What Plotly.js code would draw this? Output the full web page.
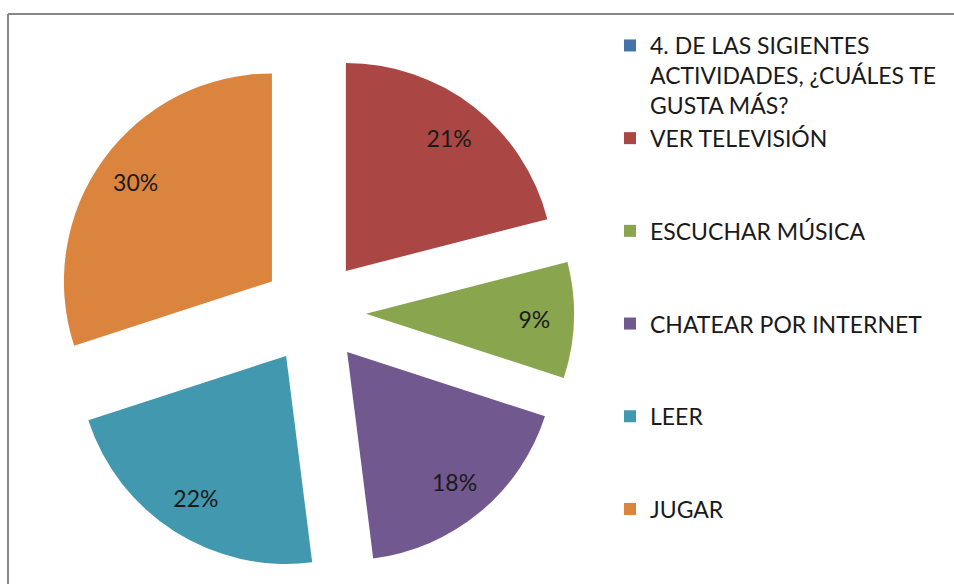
<!DOCTYPE html>
<html>
<head>
<meta charset="utf-8">
<script src="https://cdn.plot.ly/plotly-3.0.1.min.js"></script>
<style>
  html, body { margin: 0; padding: 0; background: #ffffff; }
  #chart { width: 954px; height: 584px; }
</style>
</head>
<body>
<div id="chart"></div>
<script>
// ---- data ----
var categories = [
  "4. DE LAS SIGIENTES\nACTIVIDADES, ¿CUÁLES TE\nGUSTA MÁS?",
  "VER TELEVISIÓN",
  "ESCUCHAR MÚSICA",
  "CHATEAR POR INTERNET",
  "LEER",
  "JUGAR"
];
var percentages = [0, 21, 9, 18, 22, 30];
var sliceColors = ["#4572A7", "#AA4643", "#89A54E", "#71588F", "#4198AF", "#DB843D"];

// legend labels: each entry (except the last) occupies three lines, as in the reference legend
var legendLabels = categories.map(function (c, i) {
  var lines = c.split("\n");
  if (i < categories.length - 1) {
    while (lines.length < 3) lines.push("&nbsp;");
  }
  return lines.join("<br>");
});

var W = 954, H = 584;
var pieDomain = { x: [54 / W, 574 / W], y: [12 / H, 532 / H] };

// visible slices
var slices = {
  type: "pie",
  labels: legendLabels,
  values: percentages,
  sort: false,
  direction: "clockwise",
  rotation: 0,
  pull: 0.25,
  marker: { colors: sliceColors, line: { width: 0 } },
  textinfo: "none",
  hoverinfo: "label+percent",
  domain: pieDomain
};

// same pie, transparent, only used to place the percentage labels further out
var labelsLayer = {
  type: "pie",
  labels: legendLabels,
  values: percentages,
  sort: false,
  direction: "clockwise",
  rotation: 0,
  pull: 0.25,
  hole: 0.62,
  showlegend: false,
  marker: { colors: sliceColors.map(function () { return "rgba(0,0,0,0)"; }), line: { width: 0 } },
  texttemplate: "%{percent:.0%}",
  textposition: "inside",
  insidetextorientation: "horizontal",
  insidetextfont: { family: "Lato, sans-serif", size: 23, color: "#1a1a1a" },
  hoverinfo: "skip",
  domain: pieDomain
};

var layout = {
  width: W,
  height: H,
  margin: { l: 0, r: 0, t: 0, b: 0 },
  paper_bgcolor: "#ffffff",
  plot_bgcolor: "#ffffff",
  showlegend: true,
  legend: {
    x: 610 / W,
    y: 1 - 24 / H,
    xanchor: "left",
    yanchor: "top",
    valign: "top",
    bgcolor: "rgba(0,0,0,0)",
    borderwidth: 0,
    traceorder: "normal",
    font: { family: "Lato, sans-serif", size: 23, color: "#1a1a1a" }
  },
  shapes: [
    { type: "line", xref: "paper", yref: "paper", x0: 8 / W, x1: 1, y0: 1 - 14 / H, y1: 1 - 14 / H,
      line: { color: "#868686", width: 2 } },
    { type: "line", xref: "paper", yref: "paper", x0: 8 / W, x1: 8 / W, y0: 0, y1: 1 - 14 / H,
      line: { color: "#868686", width: 2 } }
  ]
};

Plotly.newPlot("chart", [slices, labelsLayer], layout, { displayModeBar: false, staticPlot: true });
</script>
</body>
</html>
